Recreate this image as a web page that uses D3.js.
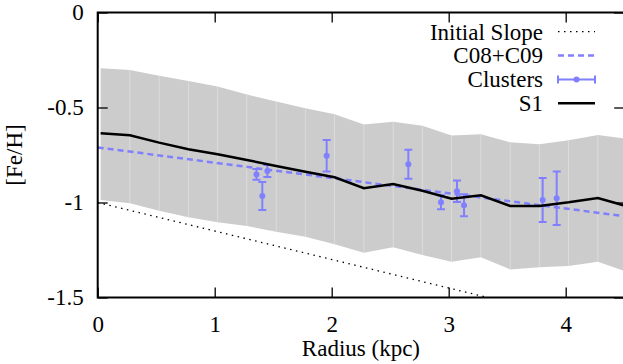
<!DOCTYPE html>
<html>
<head>
<meta charset="utf-8">
<script src="https://cdn.jsdelivr.net/npm/d3@7"></script>
<style>
  body { margin: 0; background: #fff; }
</style>
</head>
<body>
<svg width="623" height="364"></svg>
<script>
// model grid (kpc) and the S1 band / median
const radius = [0.025, 0.275, 0.525, 0.775, 1.025, 1.275, 1.525, 1.775, 2.025, 2.275,
                2.525, 2.775, 3.025, 3.275, 3.525, 3.775, 4.025, 4.275, 4.525];
const bandHigh = [-0.294, -0.303, -0.333, -0.361, -0.390, -0.431, -0.469, -0.504, -0.536, -0.590,
                  -0.575, -0.596, -0.648, -0.641, -0.683, -0.694, -0.673, -0.645, -0.665];
const bandLow = [-0.987, -1.004, -1.043, -1.078, -1.104, -1.124, -1.154, -1.180, -1.220, -1.264,
                 -1.236, -1.276, -1.312, -1.288, -1.352, -1.341, -1.334, -1.312, -1.365];
const s1 = [-0.636, -0.646, -0.685, -0.720, -0.746, -0.776, -0.808, -0.838, -0.867, -0.925,
            -0.903, -0.938, -0.980, -0.962, -1.018, -1.018, -0.999, -0.976, -1.020];

// straight lines
const initialSlopeR = [0, 4.5];
const initialSlopeFe = [-1.0, -1.675];
const c08R = [0, 4.5];
const c08Fe = [-0.710, -1.072];

// clusters
const clusterR = [1.357, 1.407, 1.450, 1.957, 2.655, 2.934, 3.071, 3.131, 3.803, 3.923];
const clusterFe = [-0.852, -0.966, -0.834, -0.754, -0.799, -0.999, -0.941, -1.015, -0.987, -0.978];
const clusterErr = [0.028, 0.074, 0.032, 0.083, 0.076, 0.037, 0.057, 0.058, 0.116, 0.141];

const xTicks = [0, 1, 2, 3, 4];
const yTicks = [0, -0.5, -1, -1.5];

const blue = '#8080ff';
const fontSize = 23;

// pick an installed Times-like face if there is one
function hasFont(name) {
    const ctx = document.createElement('canvas').getContext('2d');
    const s = 'Initial Slope C08+C09 -0.5';
    ctx.font = '40px monospace';
    const a = ctx.measureText(s).width;
    ctx.font = `40px "${name}", monospace`;
    return ctx.measureText(s).width !== a;
}
const serifFace = ['Liberation Serif', 'Times New Roman', 'Tinos', 'Times', 'Nimbus Roman',
                   'DejaVu Serif'].find(hasFont);
const fontFamily = serifFace ? `"${serifFace}", serif` : 'serif';

const svg = d3.select('svg');
const margin = { top: 12.5, left: 97.7 };
const innerWidth = 526.5;
const innerHeight = 285;

const xScale = d3.scaleLinear().domain([0, 4.5]).range([0, innerWidth]);
const yScale = d3.scaleLinear().domain([-1.5, 0]).range([innerHeight, 0]);

svg.append('defs')
  .append('clipPath').attr('id', 'clip')
  .append('rect')
    .attr('width', innerWidth)
    .attr('height', innerHeight);

const plot = svg.append('g')
    .attr('transform', `translate(${margin.left},${margin.top})`)
  .append('g')
    .attr('clip-path', 'url(#clip)');

// band, one polygon per step
for (let i = 0; i < radius.length - 1; i++) {
    const area = d3.area()
        .x(j => xScale(radius[j]))
        .y0(j => yScale(bandLow[j]))
        .y1(j => yScale(bandHigh[j]));
    plot.append('path')
        .attr('d', area([i, i + 1]))
        .attr('fill', '#cccccc');
}
// faint seams between the band steps
plot.append('g').selectAll('line')
    .data(radius.slice(1, -1).map((r, k) => k + 1))
    .join('line')
    .attr('x1', j => xScale(radius[j])).attr('x2', j => xScale(radius[j]))
    .attr('y1', j => yScale(bandHigh[j])).attr('y2', j => yScale(bandLow[j]))
    .attr('stroke', '#dcdcdc')
    .attr('stroke-width', 0.8);

const line = d3.line()
    .x(d => xScale(d[0]))
    .y(d => yScale(d[1]));

plot.append('path')
    .attr('d', line(initialSlopeR.map((r, i) => [r, initialSlopeFe[i]])))
    .attr('fill', 'none')
    .attr('stroke', '#000')
    .attr('stroke-width', 1.3)
    .attr('stroke-dasharray', '1.5,4.5');

plot.append('path')
    .attr('d', line(c08R.map((r, i) => [r, c08Fe[i]])))
    .attr('fill', 'none')
    .attr('stroke', blue)
    .attr('stroke-width', 2.5)
    .attr('stroke-dasharray', '6,4');

// clusters with error bars
const clusters = clusterR.map((r, i) => ({ r, fe: clusterFe[i], err: clusterErr[i] }));
const cg = plot.append('g')
    .attr('stroke', blue)
    .attr('stroke-width', 2);

const bars = cg.selectAll('g').data(clusters).join('g');
bars.append('line')
    .attr('x1', d => xScale(d.r)).attr('x2', d => xScale(d.r))
    .attr('y1', d => yScale(d.fe + d.err)).attr('y2', d => yScale(d.fe - d.err));
bars.append('line')
    .attr('x1', d => xScale(d.r) - 4).attr('x2', d => xScale(d.r) + 4)
    .attr('y1', d => yScale(d.fe + d.err)).attr('y2', d => yScale(d.fe + d.err));
bars.append('line')
    .attr('x1', d => xScale(d.r) - 4).attr('x2', d => xScale(d.r) + 4)
    .attr('y1', d => yScale(d.fe - d.err)).attr('y2', d => yScale(d.fe - d.err));
bars.append('circle')
    .attr('cx', d => xScale(d.r))
    .attr('cy', d => yScale(d.fe))
    .attr('r', 3)
    .attr('fill', blue)
    .attr('stroke', 'none');

plot.append('path')
    .attr('d', line(radius.map((r, i) => [r, s1[i]])))
    .attr('fill', 'none')
    .attr('stroke', '#000')
    .attr('stroke-width', 2.5);

// frame and axes, ticks pointing inward
const g = svg.append('g')
    .attr('transform', `translate(${margin.left},${margin.top})`);

const xAxisG = g.append('g')
    .attr('transform', `translate(0,${innerHeight})`)
    .call(d3.axisBottom(xScale).tickValues(xTicks).tickSize(-10).tickPadding(18)
        .tickFormat(d => String(d)));
const xTopG = g.append('g')
    .call(d3.axisTop(xScale).tickValues(xTicks).tickSize(-10).tickFormat(''));
const yAxisG = g.append('g')
    .call(d3.axisLeft(yScale).tickValues(yTicks).tickSize(-10).tickPadding(14)
        .tickFormat(d => String(d)));
const yRightG = g.append('g')
    .attr('transform', `translate(${innerWidth},0)`)
    .call(d3.axisRight(yScale).tickValues(yTicks).tickSize(-10).tickFormat(''));

[xAxisG, xTopG, yAxisG, yRightG].forEach(a => {
    a.attr('font-family', fontFamily).attr('font-size', fontSize);
    a.select('.domain').remove();
    a.selectAll('line').attr('stroke', '#000').attr('stroke-width', 1.3);
    a.selectAll('text').attr('fill', '#000');
});

g.append('rect')
    .attr('width', innerWidth)
    .attr('height', innerHeight)
    .attr('fill', 'none')
    .attr('stroke', '#000')
    .attr('stroke-width', 2);

// axis labels
svg.append('text')
    .attr('x', margin.left + innerWidth / 2)
    .attr('y', margin.top + innerHeight + 58)
    .attr('text-anchor', 'middle')
    .attr('font-family', fontFamily)
    .attr('font-size', fontSize)
    .text('Radius (kpc)');

svg.append('text')
    .attr('transform', `translate(${margin.left - 76},${margin.top + innerHeight / 2}) rotate(-90)`)
    .attr('text-anchor', 'middle')
    .attr('font-family', fontFamily)
    .attr('font-size', fontSize)
    .text('[Fe/H]');

// legend
const legendItems = ['Initial Slope', 'C08+C09', 'Clusters', 'S1'];
const legendX = 543;
const sampleX0 = 558, sampleX1 = 595;
const legend = svg.append('g')
    .attr('font-family', fontFamily)
    .attr('font-size', fontSize);
legendItems.forEach((name, i) => {
    const y = 31.7 + i * 23.85;
    legend.append('text')
        .attr('x', legendX)
        .attr('y', y + 7.8)
        .attr('text-anchor', 'end')
        .text(name);
    const s = legend.append('line')
        .attr('x1', sampleX0).attr('x2', sampleX1)
        .attr('y1', y).attr('y2', y);
    if (i === 0) {
        s.attr('stroke', '#000').attr('stroke-width', 1.3).attr('stroke-dasharray', '1.5,4.5');
    } else if (i === 1) {
        s.attr('stroke', blue).attr('stroke-width', 2.5).attr('stroke-dasharray', '6,4');
    } else if (i === 2) {
        s.attr('stroke', blue).attr('stroke-width', 2);
        [sampleX0, sampleX1].forEach(cx => {
            legend.append('line')
                .attr('x1', cx).attr('x2', cx)
                .attr('y1', y - 4).attr('y2', y + 4)
                .attr('stroke', blue).attr('stroke-width', 2);
        });
        legend.append('circle')
            .attr('cx', (sampleX0 + sampleX1) / 2)
            .attr('cy', y)
            .attr('r', 3)
            .attr('fill', blue);
    } else {
        s.attr('stroke', '#000').attr('stroke-width', 2.5);
    }
});
</script>
</body>
</html>
